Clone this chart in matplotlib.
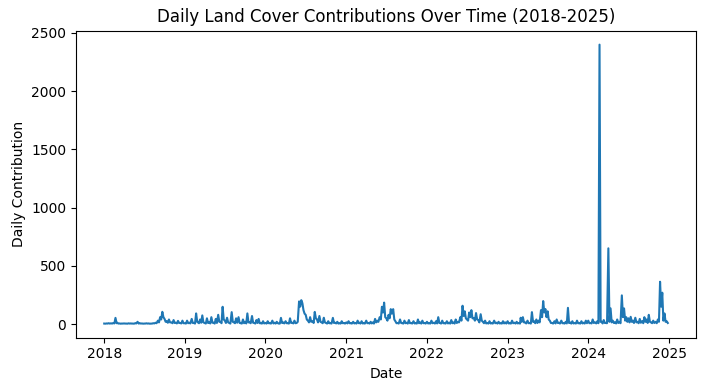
import matplotlib
matplotlib.use('Agg')
import matplotlib.pyplot as plt
import pandas as pd

# values, 6 per month
years = [2018, 2019, 2020, 2021, 2022, 2023, 2024]
peak_days = [1, 11, 21]    # readings near the local highs
low_days = [6, 16, 26]     # readings near the troughs between them

peaks = {
    2018: [5, 6, 8, 7, 10, 54, 12, 6, 5, 6, 5, 7, 6, 5, 8, 20, 8, 6,
           5, 7, 6, 5, 8, 12, 30, 60, 106, 45, 25, 40, 15, 35, 12, 28, 10, 30],
    2019: [8, 30, 12, 45, 10, 92, 15, 40, 75, 10, 50, 15, 60, 12, 45, 80, 20, 149,
           30, 55, 10, 103, 15, 50, 60, 8, 40, 20, 92, 15, 70, 10, 35, 45, 8, 25],
    2020: [10, 25, 8, 30, 12, 20, 5, 54, 15, 25, 8, 50, 12, 30, 10, 195, 206, 120,
           80, 30, 60, 25, 105, 40, 70, 15, 55, 10, 25, 8, 54, 12, 20, 8, 25, 10],
    2021: [15, 25, 8, 20, 10, 30, 12, 25, 8, 30, 10, 20, 15, 45, 30, 60, 149, 185,
           50, 80, 129, 129, 25, 10, 40, 8, 30, 12, 35, 10, 25, 8, 40, 15, 30, 10],
    2022: [20, 8, 30, 12, 25, 60, 10, 30, 8, 25, 12, 35, 15, 40, 20, 60, 158, 110,
           40, 100, 120, 50, 95, 35, 85, 20, 30, 10, 25, 8, 30, 12, 20, 8, 25, 15],
    2023: [25, 8, 30, 12, 20, 10, 55, 60, 15, 30, 10, 103, 25, 40, 30, 120, 198, 130,
           110, 30, 10, 25, 40, 12, 30, 8, 20, 140, 15, 25, 10, 30, 8, 25, 12, 30],
    2024: [30, 10, 40, 15, 25, 2400, 20, 35, 10, 651, 135, 30, 15, 40, 20, 247, 135, 60,
           50, 63, 30, 55, 20, 45, 25, 60, 40, 80, 15, 30, 20, 40, 364, 270, 92, 25],
}

lows = {
    2018: [4, 5, 5, 5, 6, 8, 5, 4, 5, 5, 4, 5, 5, 4, 6, 5, 5, 4,
           5, 5, 4, 5, 6, 8, 15, 40, 60, 20, 12, 15, 8, 10, 6, 10, 6, 8],
    2019: [5, 8, 6, 10, 5, 20, 8, 12, 15, 5, 10, 6, 12, 5, 10, 20, 8, 40,
           10, 15, 5, 20, 8, 12, 10, 5, 8, 6, 15, 8, 12, 5, 10, 8, 5, 6],
    2020: [5, 8, 5, 6, 5, 8, 5, 10, 6, 8, 5, 10, 6, 8, 20, 150, 180, 90,
           40, 15, 20, 10, 50, 15, 20, 8, 15, 5, 8, 5, 10, 6, 5, 5, 8, 5],
    2021: [6, 8, 5, 6, 5, 8, 5, 6, 5, 8, 5, 6, 5, 15, 20, 40, 100, 60,
           30, 50, 90, 40, 8, 5, 10, 5, 8, 5, 8, 5, 6, 5, 8, 5, 8, 5],
    2022: [6, 5, 8, 5, 6, 10, 5, 8, 5, 6, 5, 8, 5, 10, 15, 30, 70, 50,
           30, 60, 50, 30, 40, 15, 30, 8, 6, 5, 6, 5, 8, 5, 6, 5, 6, 5],
    2023: [6, 5, 8, 5, 6, 5, 20, 15, 6, 8, 5, 20, 8, 10, 15, 60, 100, 60,
           40, 10, 5, 6, 10, 5, 8, 5, 6, 10, 5, 6, 5, 8, 5, 6, 5, 8],
    2024: [8, 6, 10, 6, 8, 20, 6, 10, 8, 20, 15, 10, 6, 10, 8, 60, 30, 20,
           15, 20, 10, 15, 8, 12, 8, 20, 10, 20, 8, 10, 8, 20, 150, 30, 20, 10],
}

dates = []
contrib = []
for y in years:
    for day_set, table in ((peak_days, peaks), (low_days, lows)):
        for i, v in enumerate(table[y]):
            dates.append(pd.Timestamp(year=y, month=i // 3 + 1, day=day_set[i % 3]))
            contrib.append(v)

series = pd.Series(contrib, index=dates).sort_index()

fig = plt.figure(figsize=(7.04, 3.91), dpi=100)
ax = fig.add_axes([0.108, 0.1365, 0.8806, 0.785])
ax.plot(series.index, series.values)
ax.set_xlabel('Date')
ax.set_ylabel('Daily Contribution')
ax.set_title('Daily Land Cover Contributions Over Time (2018-2025)')
fig.savefig('out.png', dpi=100)
